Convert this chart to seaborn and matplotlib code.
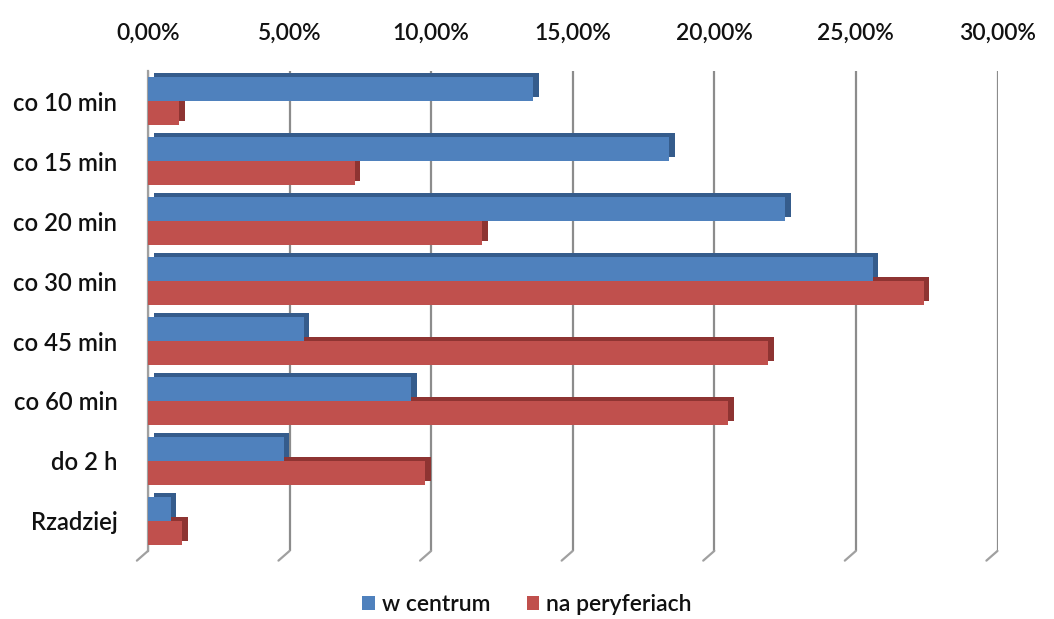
import numpy as np
import pandas as pd
import seaborn as sns
import matplotlib.pyplot as plt
from matplotlib.patches import Rectangle
from matplotlib.transforms import ScaledTranslation, blended_transform_factory
from matplotlib.ticker import FuncFormatter

# ---- data ----
categories = ["co 10 min", "co 15 min", "co 20 min", "co 30 min",
              "co 45 min", "co 60 min", "do 2 h", "Rzadziej"]
centrum = [13.6, 18.4, 22.5, 25.6, 5.5, 9.3, 4.8, 0.8]
peryferie = [1.1, 7.3, 11.8, 27.4, 21.9, 20.5, 9.8, 1.2]
series_names = ["w centrum", "na peryferiach"]
# -------------------------------------

df = pd.DataFrame({
    "kategoria": categories * 2,
    "wartosc": np.array(centrum + peryferie) / 100,
    "seria": [series_names[0]] * len(categories) + [series_names[1]] * len(categories),
})

sns.set_style("white")
plt.rcParams["font.family"] = ["Lato", "DejaVu Sans"]

colors = {"w centrum": "#4F81BD", "na peryferiach": "#C0504D"}
dark = {"#4F81BD": "#355C8C", "#C0504D": "#8E3432"}

fig = plt.figure(figsize=(10.54, 6.19), dpi=100)
ax = fig.add_axes([0.1404, 0.110, 0.806, 0.775])

sns.barplot(data=df, y="kategoria", x="wartosc", hue="seria", palette=colors,
            orient="h", width=0.8, saturation=1, ax=ax, legend=True, zorder=3,
            edgecolor="none", linewidth=0)

# fake 3d depth: darker copy of every bar, shifted up-right
shift = ax.transData + ScaledTranslation(4 / 72, 3 / 72, fig.dpi_scale_trans)
for p in list(ax.patches):
    if p.get_width() <= 0:
        continue
    fc = "#4F81BD" if p.get_facecolor()[2] > 0.5 else "#C0504D"
    back = Rectangle((p.get_x(), p.get_y()), p.get_width(), p.get_height(),
                     facecolor=dark[fc], edgecolor="none", transform=shift, zorder=2)
    ax.add_patch(back)

ax.set_xlim(0, 0.30)
ax.set_ylim(len(categories) - 0.5, -0.5)
ticks = np.arange(0, 0.31, 0.05)
ax.set_xticks(ticks)
ax.xaxis.set_major_formatter(FuncFormatter(lambda v, _: f"{v * 100:.2f}%".replace(".", ",")))
ax.xaxis.tick_top()
ax.tick_params(axis="x", length=0, pad=20, labelsize=16.5, colors="#111111")
ax.tick_params(axis="y", length=0, pad=22, labelsize=17.2, colors="#111111")
for lab in ax.get_xticklabels() + ax.get_yticklabels():
    lab.set_fontweight("semibold")
ax.grid(axis="x", color="#8C8C8C", linewidth=1.6, zorder=0)
ax.set_axisbelow(True)
ax.set_xlabel("")
ax.set_ylabel("")
for s in ["top", "right", "bottom"]:
    ax.spines[s].set_visible(False)
ax.spines["left"].set_color("#A0A0A0")
ax.spines["left"].set_linewidth(1.6)

# floor edges of the 3d grid, going down-left from each gridline
floor = blended_transform_factory(ax.transData, ax.transAxes)
for t in ticks:
    ax.annotate("", xy=(t, 0), xycoords=floor, xytext=(-8, -7), textcoords="offset points",
                arrowprops=dict(arrowstyle="-", color="#A0A0A0", lw=1.6,
                                shrinkA=0, shrinkB=0), annotation_clip=False)

handles, labels = ax.get_legend_handles_labels()
ax.legend_.remove()
leg = fig.legend(handles, labels, loc="center", bbox_to_anchor=(0.5, 0.023), ncol=2,
                 frameon=False, fontsize=16.5, handlelength=0.55, handleheight=0.55,
                 handletextpad=0.3, columnspacing=1.6)
for txt in leg.get_texts():
    txt.set_fontweight("semibold")
    txt.set_color("#111111")

fig.savefig("out.png", dpi=100)
